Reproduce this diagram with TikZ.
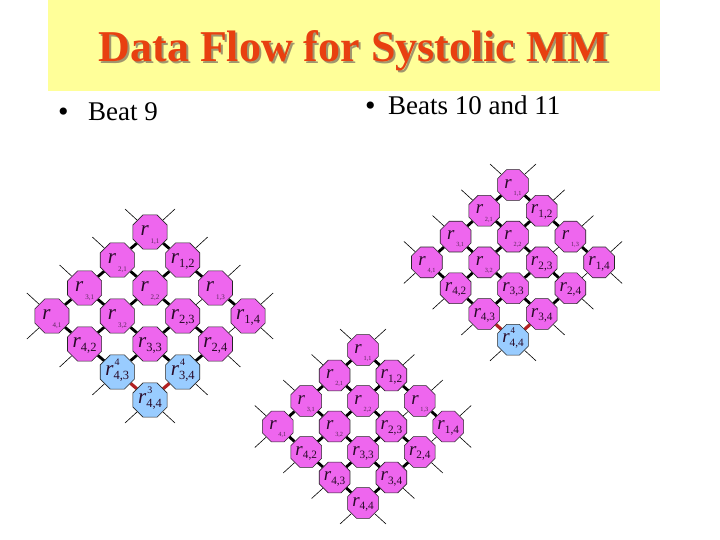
\documentclass[tikz,border=0pt]{standalone}
\usepackage{fontspec}
\setmainfont{Liberation Serif}
\usetikzlibrary{shapes.geometric,backgrounds}
\definecolor{pinkc}{RGB}{238,102,238}
\definecolor{bluec}{RGB}{153,204,255}
\definecolor{titley}{RGB}{255,255,153}
\definecolor{titler}{RGB}{232,64,16}
\definecolor{subc}{RGB}{90,40,90}
\definecolor{redl}{RGB}{178,34,34}
\definecolor{labc}{RGB}{40,10,40}
\definecolor{shadc}{RGB}{160,150,110}
\pgfdeclarelayer{bottom}
\pgfsetlayers{bottom,background,main}
\newcommand{\rS}[1]{\raisebox{-3.5pt}[0pt][0pt]{\makebox[0pt]{\textit{\fontsize{21}{21}\selectfont r}\hspace{2pt}\raisebox{-8pt}{\fontsize{7}{7}\selectfont\color{subc}#1}}}}
\newcommand{\rL}[2]{\raisebox{-3.5pt}[0pt][0pt]{\makebox[0pt]{\textit{\fontsize{21}{21}\selectfont r}\rlap{\hspace{1pt}\raisebox{10pt}{\fontsize{10}{10}\selectfont #2}}\raisebox{-4pt}{\fontsize{12.5}{12.5}\selectfont #1}}}}
\newcommand{\C}[5]{\node[cell,#4] (#1#2#3) at ({\Xo+(#3-#2)*\DX},{\Yo+(#2+#3-2)*\DY}) {#5};}
\newcommand{\gridedges}[2]{%
  \foreach \a/\b in {11/21,21/31,31/41,12/22,22/32,32/42,23/33,33/43,24/34,11/12,12/13,13/14,21/22,22/23,23/24,31/32,32/33,33/34,41/42,42/43}
    \draw[thk] (#1\a) -- (#1\b);
  \foreach \a/\b in {13/23,14/24}
    \draw[thn] (#1\a) -- (#1\b);
  \foreach \a/\b in {34/44,43/44}
    \draw[#2] (#1\a) -- (#1\b);
}
\newcommand{\gridstubs}[3]{%
  \foreach \k in {1,...,4}{
    \draw[stub] (#11\k) -- ++(#2,-#3);
    \draw[stub] (#1\k1) -- ++(-#2,-#3);
    \draw[stub] (#14\k) -- ++(-#2,#3);
    \draw[stub] (#1\k4) -- ++(#2,#3);
  }
}
\newcommand{\gridcells}[1]{%
  \C{#1}{1}{1}{}{\rS{1,1}}
  \C{#1}{2}{1}{}{\rS{2,1}}
  \C{#1}{3}{1}{}{\rS{3,1}}
  \C{#1}{4}{1}{}{\rS{4,1}}
  \C{#1}{2}{2}{}{\rS{2,2}}
  \C{#1}{3}{2}{}{\rS{3,2}}
  \C{#1}{1}{3}{}{\rS{1,3}}
  \C{#1}{1}{2}{}{\rL{1,2}{}}
  \C{#1}{2}{3}{}{\rL{2,3}{}}
  \C{#1}{1}{4}{}{\rL{1,4}{}}
  \C{#1}{4}{2}{}{\rL{4,2}{}}
  \C{#1}{3}{3}{}{\rL{3,3}{}}
  \C{#1}{2}{4}{}{\rL{2,4}{}}
}
\begin{document}
\begin{tikzpicture}[x=1pt,y=-1pt,
  cell/.style={regular polygon, regular polygon sides=8, minimum size=37pt, inner sep=0pt,
    draw=black!85, line width=0.6pt, fill=pinkc, text=labc},
  bcell/.style={fill=bluec},
  thk/.style={line width=2.8pt, black},
  thn/.style={line width=0.6pt, black},
  redlink/.style={line width=3.2pt, redl},
  stub/.style={line width=0.6pt, black},
  sm/.style={scale=0.9}]
\begin{pgfonlayer}{bottom}
\fill[white] (0,0) rectangle (720,540);
\end{pgfonlayer}
\useasboundingbox (0,0) rectangle (720,540);
% title
\fill[titley] (48,0) rectangle (660,91);
\node[anchor=base, font=\fontsize{44}{44}\selectfont\bfseries, text=shadc] (titleshadow) at (356,64) {Data Flow for Systolic MM};
\node[anchor=base, font=\fontsize{44}{44}\selectfont\bfseries, text=titler] (title) at (354,62) {Data Flow for Systolic MM};
\node[anchor=base west, inner sep=0pt, font=\fontsize{27}{27}\selectfont] (b1) at (58,121) {\raisebox{-1pt}{\fontsize{30}{30}\selectfont\textbullet}\hspace{19.5pt}Beat 9};
\node[anchor=base west, inner sep=0pt, font=\fontsize{27}{27}\selectfont] (b2) at (365,115) {\raisebox{-1pt}{\fontsize{30}{30}\selectfont\textbullet}\hspace{12.5pt}Beats 10 and 11};
% left diamond (beat 9)
\def\Xo{150}\def\Yo{232}\def\DX{32.7}\def\DY{28}
\gridcells{L}
\C{L}{4}{3}{bcell}{\rL{4,3}{4}}
\C{L}{3}{4}{bcell}{\rL{3,4}{4}}
\C{L}{4}{4}{bcell}{\rL{4,4}{3}}
% right diamond (beat 10)
\def\Xo{513}\def\Yo{185}\def\DX{28.7}\def\DY{25.8}
\begin{scope}[every node/.append style={sm}]
\gridcells{R}
\C{R}{4}{3}{}{\rL{4,3}{}}
\C{R}{3}{4}{}{\rL{3,4}{}}
\C{R}{4}{4}{bcell}{\rL{4,4}{4}}
\end{scope}
% bottom diamond (beat 11)
\def\Xo{363}\def\Yo{350}\def\DX{28.4}\def\DY{25.5}
\begin{scope}[every node/.append style={sm}]
\gridcells{B}
\C{B}{4}{3}{}{\rL{4,3}{}}
\C{B}{3}{4}{}{\rL{3,4}{}}
\C{B}{4}{4}{}{\rL{4,4}{}}
\end{scope}
\begin{pgfonlayer}{background}
\gridedges{L}{redlink}
\gridstubs{L}{25}{23}
\gridedges{R}{redlink}
\gridstubs{R}{23}{21}
\gridedges{B}{thk}
\gridstubs{B}{23}{21}
\end{pgfonlayer}
\end{tikzpicture}
\end{document}
